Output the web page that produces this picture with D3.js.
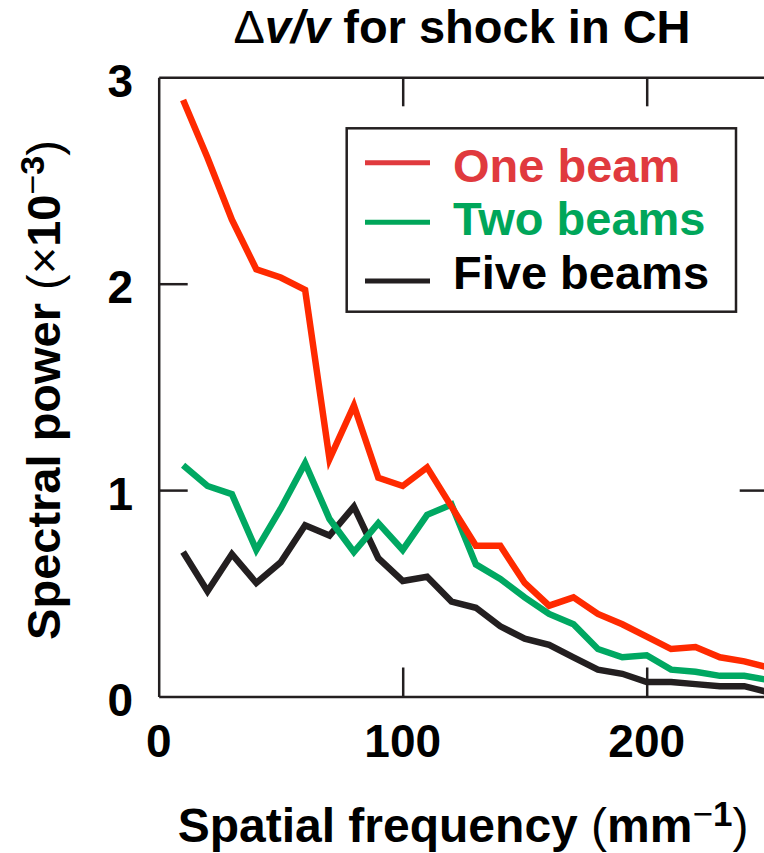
<!DOCTYPE html>
<html>
<head>
<meta charset="utf-8">
<script src="https://cdn.jsdelivr.net/npm/d3@7"></script>
<style>
  body { margin: 0; background: #fff; }
  text { font-family: "Liberation Sans", Arial, Helvetica, sans-serif; }
</style>
</head>
<body>
<script>
// spatial frequency (mm^-1)
const freq = [10, 20, 30, 40, 50, 60, 70, 80, 90, 100, 110, 120, 130,
  140, 150, 160, 170, 180, 190, 200, 210, 220, 230, 240, 250];

// spectral power (x10^-3)
const oneBeam = [2.89, 2.61, 2.31, 2.07, 2.03, 1.97, 1.15, 1.41, 1.06, 1.02, 1.11, 0.92, 0.73,
  0.73, 0.55, 0.44, 0.48, 0.40, 0.35, 0.29, 0.23, 0.24, 0.19, 0.17, 0.14];
const twoBeams = [1.12, 1.02, 0.98, 0.71, 0.91, 1.13, 0.86, 0.70, 0.84, 0.71, 0.88, 0.93, 0.64,
  0.57, 0.48, 0.40, 0.35, 0.23, 0.19, 0.20, 0.13, 0.12, 0.10, 0.10, 0.08];
const fiveBeams = [0.70, 0.51, 0.69, 0.55, 0.65, 0.83, 0.78, 0.92, 0.67, 0.56, 0.58, 0.46, 0.43,
  0.34, 0.28, 0.25, 0.19, 0.13, 0.11, 0.07, 0.07, 0.06, 0.05, 0.05, 0.02];

const seriesNames = ["One beam", "Two beams", "Five beams"];
const lineColors = ["#ff2a00", "#00a862", "#231f20"];
const textColors = ["#e03a3e", "#00a65a", "#000000"];

const xTicks = [0, 100, 200];
const yTicks = [0, 1, 2, 3];

const w = 764;
const h = 853;
const ink = "#231f20";

const svg = d3.select("body")
  .append("svg")
  .attr("width", w)
  .attr("height", h);

const x = d3.scaleLinear()
  .domain([0, 250])
  .range([158.7, 768.7]);

const y = d3.scaleLinear()
  .domain([0, 3])
  .range([696.5, 77.3]);

// frame with inward ticks
const frame = [
  [d3.axisTop(x).tickValues([100, 200]), `translate(0,${y(0)})`],
  [d3.axisBottom(x).tickValues([100, 200]), `translate(0,${y(3)})`],
  [d3.axisRight(y).tickValues([1, 2]), `translate(${x(0)},0)`],
  [d3.axisLeft(y).tickValues([1]), `translate(${x(250)},0)`]
];
frame.forEach(([axis, tr]) => {
  const g = svg.append("g")
    .attr("transform", tr)
    .call(axis.tickSizeInner(29).tickSizeOuter(0).tickFormat(""));
  g.selectAll("path, line")
    .attr("stroke", ink)
    .attr("stroke-width", 2.5);
});

// lines
const series = [oneBeam, twoBeams, fiveBeams];
const line = d3.line()
  .x((d, i) => x(freq[i]))
  .y(d => y(d));

svg.selectAll(".series")
  .data(series.slice().reverse())
  .enter()
  .append("path")
  .attr("class", "series")
  .attr("d", d => line(d))
  .attr("fill", "none")
  .attr("stroke", (d, i) => lineColors[2 - i])
  .attr("stroke-width", 6.5)
  .attr("stroke-linejoin", "miter");

// tick labels
svg.selectAll(".ylab")
  .data(yTicks)
  .enter()
  .append("text")
  .attr("class", "ylab")
  .attr("x", 133)
  .attr("y", d => y(d))
  .attr("dy", "0.43em")
  .attr("text-anchor", "end")
  .attr("font-size", 46)
  .attr("font-weight", "bold")
  .text(d => d);

svg.selectAll(".xlab")
  .data(xTicks)
  .enter()
  .append("text")
  .attr("class", "xlab")
  .attr("x", d => x(d))
  .attr("y", 757)
  .attr("text-anchor", "middle")
  .attr("font-size", 46)
  .attr("font-weight", "bold")
  .text(d => d);

// title
const title = svg.append("text")
  .attr("x", 462)
  .attr("y", 43)
  .attr("text-anchor", "middle")
  .attr("font-size", 47)
  .attr("font-weight", "bold");
title.append("tspan").attr("font-weight", "normal").text("Δ");
title.append("tspan").attr("font-style", "italic").text("v/v");
title.append("tspan").text(" for shock in CH");

// x axis title
const xt = svg.append("text")
  .attr("x", 463)
  .attr("y", 842)
  .attr("text-anchor", "middle")
  .attr("font-size", 48)
  .attr("font-weight", "bold");
xt.append("tspan").text("Spatial frequency ");
xt.append("tspan").attr("font-weight", "normal").text("(");
xt.append("tspan").text("mm");
xt.append("tspan").attr("font-size", 35).attr("dy", -16).attr("font-weight", "normal").text("−");
xt.append("tspan").attr("font-size", 35).text("1");
xt.append("tspan").attr("dy", 16).attr("font-weight", "normal").text(")");

// y axis title
const yt = svg.append("text")
  .attr("transform", "translate(60,390) rotate(-90)")
  .attr("text-anchor", "middle")
  .attr("font-size", 47)
  .attr("font-weight", "bold");
yt.append("tspan").text("Spectral power ");
yt.append("tspan").attr("font-weight", "normal").text("(×");
yt.append("tspan").text("10");
yt.append("tspan").attr("font-size", 34).attr("dy", -16).attr("font-weight", "normal").text("−");
yt.append("tspan").attr("font-size", 34).text("3");
yt.append("tspan").attr("dy", 16).attr("font-weight", "normal").text(")");

// legend
const legend = svg.append("g");
legend.append("rect")
  .attr("x", 346.7)
  .attr("y", 128.3)
  .attr("width", 389.3)
  .attr("height", 183.4)
  .attr("fill", "#fff")
  .attr("stroke", ink)
  .attr("stroke-width", 2.5);

const lineY = [162.7, 222.3, 281];
const textY = [181.7, 235, 289];

legend.selectAll("line")
  .data(seriesNames)
  .enter()
  .append("line")
  .attr("x1", 365)
  .attr("x2", 430)
  .attr("y1", (d, i) => lineY[i])
  .attr("y2", (d, i) => lineY[i])
  .attr("stroke", (d, i) => i === 2 ? ink : textColors[i])
  .attr("stroke-width", 5);

legend.selectAll("text")
  .data(seriesNames)
  .enter()
  .append("text")
  .attr("x", 453)
  .attr("y", (d, i) => textY[i])
  .attr("font-size", 47)
  .attr("font-weight", "bold")
  .attr("fill", (d, i) => textColors[i])
  .text(d => d);
</script>
</body>
</html>
